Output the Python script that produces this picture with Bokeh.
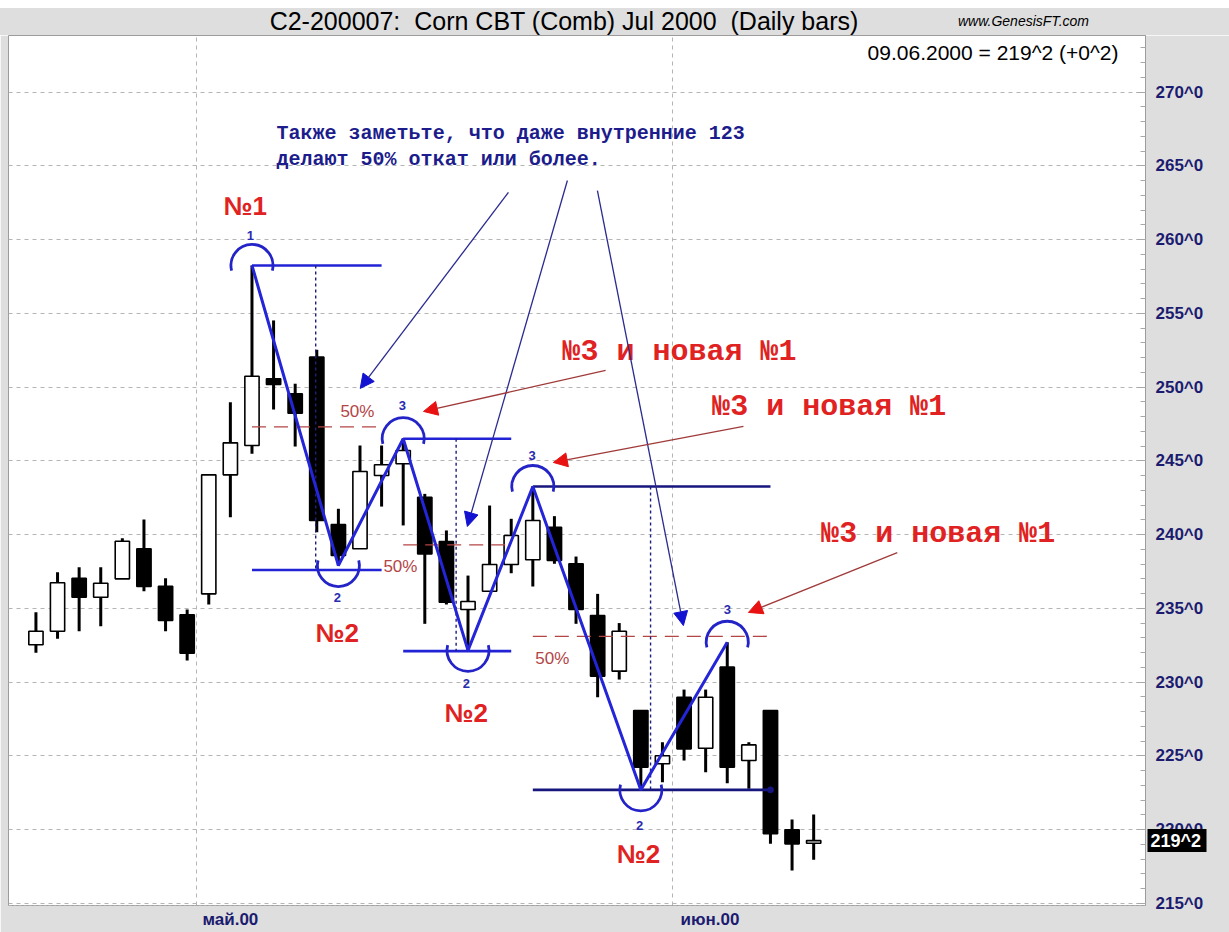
import numpy as np
from bokeh.plotting import figure
from bokeh.layouts import column
from bokeh.models import (ColumnDataSource, FixedTicker, CustomJSTickFormatter, Label,
                          Arrow, NormalHead, Range1d, Div, LinearAxis)
from bokeh.core.properties import value
from bokeh.embed import file_html
from bokeh.resources import INLINE

# ---------------- data ----------------
dates = ["18.04", "19.04", "20.04", "24.04", "25.04", "26.04", "27.04", "28.04",
         "01.05", "02.05", "03.05", "04.05", "05.05", "08.05", "09.05", "10.05", "11.05", "12.05",
         "15.05", "16.05", "17.05", "18.05", "19.05", "22.05", "23.05", "24.05", "25.05", "26.05",
         "30.05", "31.05",
         "01.06", "02.06", "05.06", "06.06", "07.06", "08.06", "09.06"]
opens = [232.53, 233.45, 237.04, 235.75, 237.00, 239.04, 236.50, 234.56,
         235.98, 244.05, 246.04, 250.56, 249.55, 252.03, 240.68, 239.04, 244.01, 244.80,
         242.53, 239.53, 234.92, 236.16, 237.97, 238.29, 240.50, 238.02, 234.51, 230.74,
         228.07, 224.46,
         228.97, 225.51, 231.01, 224.68, 228.07, 219.98, 219.07]
highs = [234.74, 237.45, 237.79, 237.79, 239.75, 241.02, 237.04, 234.92,
         244.05, 248.98, 258.25, 254.52, 250.23, 252.53, 241.75, 246.04, 246.04, 246.50,
         242.76, 240.28, 237.22, 241.97, 241.07, 243.26, 241.25, 238.51, 235.98, 234.00,
         228.07, 225.92,
         229.49, 229.49, 232.70, 225.92, 228.07, 220.68, 221.02]
lows = [231.98, 232.93, 233.45, 233.79, 237.00, 236.16, 233.45, 231.46,
        235.26, 241.18, 245.48, 248.48, 245.97, 240.16, 237.90, 239.04, 241.90, 240.62,
        233.95, 235.26, 232.15, 236.16, 237.38, 236.48, 238.02, 233.95, 228.97, 230.17,
        222.69, 223.21,
        224.68, 223.89, 223.14, 222.76, 219.03, 217.22, 217.95]
closes = [233.45, 236.73, 235.75, 236.70, 239.55, 236.48, 234.17, 231.96,
          244.05, 246.22, 250.74, 250.18, 248.23, 240.95, 238.58, 244.28, 244.73, 245.70,
          238.69, 235.41, 235.46, 237.97, 239.94, 240.95, 238.24, 234.92, 230.40, 233.45,
          224.22, 225.00,
          225.47, 228.97, 224.22, 225.74, 219.71, 219.03, 219.25]

price_ticks = [215, 220, 225, 230, 235, 240, 245, 250, 255, 260, 265, 270]
month_labels = ["май.00", "июн.00"]
month_grid = [8.45, 30.45]        # month boundaries (grid lines)
month_label_pos = [10.0, 32.2]    # label centres

# 1-2-3 pivots (bar number, price) and their labels
pivot_idx = [11, 15, 18, 21, 24, 29, 33]
pivot_px = [258.25, 237.90, 246.50, 232.15, 243.26, 222.69, 232.70]
pivot_side = ["top", "bottom", "top", "bottom", "top", "bottom", "top"]
pivot_num = ["1", "2", "3", "2", "3", "2", "3"]
pivot_num_x = [10.92, 14.95, 17.96, 20.92, 23.97, 28.94, 33.00]
pivot_num_y = [260.28, 235.73, 248.75, 229.90, 245.36, 220.27, 234.92]

# levels of each 1-2-3 swing
lvl_x0 = [11, 18, 24]
lvl_x1 = [17, 23, 35]
lvl_hi = [258.25, 246.50, 243.26]
lvl_lo = [237.60, 232.10, 222.69]
lvl_colors = ["#2323d6", "#2323d6", "#16167e"]
half_lvl = [247.30, 239.30, 233.10]
vert_x = [13.95, 20.45, 29.45]
half_txt_x = [15.88, 17.87, 24.90]
half_txt_y = [248.35, 237.84, 231.60]

# labels "№1" / "№2"
num_txt = ["№1", "№2", "№2", "№2"]
num_x = [10.69, 14.95, 20.92, 28.89]
num_y = [262.30, 233.36, 227.93, 218.37]

# red notes "№3 и новая №1"
note_txt = ["№3 и новая №1", "№3 и новая №1", "№3 и новая №1"]
note_x = [25.37, 32.30, 37.35]
note_y = [252.35, 248.62, 240.07]
red_arrow_x0 = [27.37, 33.75, 40.87]
red_arrow_y0 = [251.13, 247.33, 238.78]
red_arrow_x1 = [18.94, 24.95, 33.98]
red_arrow_y1 = [248.35, 244.89, 234.72]

# blue comment
blue_lines = ["Также заметьте, что даже внутренние 123", "делают 50% откат или более."]
blue_x = [12.14, 12.14]
blue_y = [267.20, 265.44]
blue_arrow_x0 = [22.87, 25.60, 26.99]
blue_arrow_y0 = [263.20, 264.01, 263.33]
blue_arrow_x1 = [16.01, 20.97, 30.97]
blue_arrow_y1 = [249.91, 240.55, 233.83]

title_text = "C2-200007:&nbsp; Corn CBT (Comb) Jul 2000&nbsp; (Daily bars)"
site_text = "www.GenesisFT.com"
last_text = "09.06.2000 = 219^2 (+0^2)"
last_price = 219.25
last_tag = "219^2"

FONT = "Liberation Sans"

# ---------------- header band ----------------
header = Div(width=1229, height=35, styles={"background-color": "#dedede", "margin": "0"},
             text=f"""
<div style="position:relative;width:1229px;height:35px;font-family:'{FONT}';">
 <div style="position:absolute;left:0;top:0;width:1229px;height:8px;background:white;"></div>
 <div style="position:absolute;left:0;width:1128px;top:7px;text-align:center;font-size:25px;
             line-height:28px;color:black;white-space:nowrap;">{title_text}</div>
 <div style="position:absolute;left:958px;top:13px;font-size:14px;font-style:italic;
             line-height:16px;color:black;">{site_text}</div>
</div>""")

# ---------------- figure ----------------
idx = np.arange(1, len(dates) + 1)
p = figure(width=1229, height=897, output_backend="svg", toolbar_location=None,
           x_range=Range1d(-0.27, 52.36), y_range=Range1d(214.85, 273.84),
           y_axis_location="right", min_border_left=8, min_border_right=84,
           min_border_top=0, min_border_bottom=27)
p.border_fill_color = "#dedede"
p.background_fill_color = "white"
p.outline_line_color = "#9c9c9c"

ax_y = p.yaxis[0]
ax_y.ticker = FixedTicker(ticks=price_ticks, minor_ticks=list(range(215, 274)))
ax_y.formatter = CustomJSTickFormatter(code="return tick.toFixed(0) + '^0';")
ax_y.major_label_text_font = FONT
ax_y.major_label_text_font_style = "bold"
ax_y.major_label_text_font_size = "17px"
ax_y.major_label_text_color = "#1b1b70"
ax_y.major_label_standoff = 10
ax_y.axis_line_color = "#9c9c9c"
ax_y.major_tick_in = 9
ax_y.major_tick_out = 0
ax_y.minor_tick_in = 5
ax_y.minor_tick_out = 0
ax_y.major_tick_line_color = "#a8a8a8"
ax_y.minor_tick_line_color = "#a8a8a8"

# last-price tag: a second right axis whose single wide inward tick forms the black box
tag_axis = LinearAxis(ticker=FixedTicker(ticks=[last_price], minor_ticks=[]),
                      formatter=CustomJSTickFormatter(args=dict(tag=last_tag), code="return tag;"),
                      axis_line_color=None,
                      major_tick_line_color="black", major_tick_line_width=23,
                      major_tick_in=59, major_tick_out=0,
                      minor_tick_line_color=None, minor_tick_in=0, minor_tick_out=0,
                      major_label_standoff=-56, major_label_text_font=FONT,
                      major_label_text_font_style="bold", major_label_text_font_size="18px",
                      major_label_text_color="white")
p.add_layout(tag_axis, "right")

ax_x = p.xaxis[0]
ax_x.ticker = FixedTicker(ticks=month_label_pos)
ax_x.formatter = CustomJSTickFormatter(args=dict(names=month_labels, pos=month_label_pos),
                                       code="""
let best = 0;
for (let i = 0; i < pos.length; i++) { if (Math.abs(pos[i] - tick) < Math.abs(pos[best] - tick)) best = i; }
return names[best];""")
ax_x.major_label_text_font = FONT
ax_x.major_label_text_font_style = "bold"
ax_x.major_label_text_font_size = "17px"
ax_x.major_label_text_color = "#1b1b70"
ax_x.major_label_standoff = 4
ax_x.axis_line_color = "#b0b0b0"
ax_x.axis_line_dash = "3 2"
ax_x.major_tick_in = 0
ax_x.major_tick_out = 0
ax_x.minor_tick_line_color = None

p.xgrid[0].ticker = FixedTicker(ticks=month_grid)
for g in (p.xgrid[0], p.ygrid[0]):
    g.grid_line_color = "#b5b5b5"
    g.grid_line_dash = "4 4"
    g.grid_line_width = 1

# ---------------- candles ----------------
o = np.array(opens); c = np.array(closes)
src = ColumnDataSource(dict(
    x=idx, high=highs, low=lows,
    top=np.maximum(o, c), bottom=np.minimum(o, c),
    fill=["white" if cc >= oo else "black" for oo, cc in zip(opens, closes)],
))
p.segment(x0="x", y0="low", x1="x", y1="high", source=src, line_color="black", line_width=3)
p.vbar(x="x", width=0.66, top="top", bottom="bottom", source=src,
       fill_color="fill", line_color="black", line_width=1.6)

# ---------------- 1-2-3 construction ----------------
for x0, x1, hi, lo, col, half, vx in zip(lvl_x0, lvl_x1, lvl_hi, lvl_lo, lvl_colors, half_lvl, vert_x):
    p.segment(x0=[x0, x0], y0=[hi, lo], x1=[x1, x1], y1=[hi, lo], line_color=col, line_width=2.6)
    p.segment(x0=[x0], y0=[half], x1=[x1], y1=[half], line_color="#b34545", line_width=1.4,
              line_dash="14 8")
    p.segment(x0=[vx], y0=[hi], x1=[vx], y1=[lo], line_color="#1e1e80", line_width=1.4,
              line_dash="3 3")
p.scatter([lvl_x1[2]], [lvl_lo[2]], size=6, color="#16167e")

p.line(pivot_idx, pivot_px, line_color="#2424d8", line_width=3)

for xi, yi, side in zip(pivot_idx, pivot_px, pivot_side):
    if side == "top":
        sa, ea = -0.25, np.pi + 0.25
    else:
        sa, ea = np.pi - 0.25, 2 * np.pi + 0.25
    p.arc(x=[xi], y=[yi], radius=21, radius_units="screen", start_angle=sa, end_angle=ea,
          line_color="#2323c8", line_width=2.8)

p.text(x=pivot_num_x, y=pivot_num_y, text=pivot_num, text_align="center", text_baseline="middle",
       text_font=value(FONT), text_font_style="bold", text_font_size="13px",
       text_color="#2a2ab0")

p.text(x=half_txt_x, y=half_txt_y, text=["50%"] * 3, text_align="center", text_baseline="middle",
       text_font=value(FONT), text_font_size="17px", text_color="#b34545")

p.text(x=num_x, y=num_y, text=num_txt, text_align="center", text_baseline="middle",
       text_font=value(FONT), text_font_style="bold", text_font_size="26px",
       text_color="#e02222")

p.text(x=note_x, y=note_y, text=note_txt, text_align="left", text_baseline="middle",
       text_font=value("Liberation Mono"), text_font_style="bold", text_font_size="30px",
       text_color="#e02222")

p.text(x=blue_x, y=blue_y, text=blue_lines, text_align="left", text_baseline="middle",
       text_font=value("Liberation Mono"), text_font_style="bold", text_font_size="20px",
       text_color="#1c1c8c")

for xs, ys, xe, ye in zip(blue_arrow_x0, blue_arrow_y0, blue_arrow_x1, blue_arrow_y1):
    p.add_layout(Arrow(end=NormalHead(size=14, fill_color="#1212d0", line_color="#1212d0"),
                       x_start=xs, y_start=ys, x_end=xe, y_end=ye,
                       line_color="#2a2a90", line_width=1.3))
for xs, ys, xe, ye in zip(red_arrow_x0, red_arrow_y0, red_arrow_x1, red_arrow_y1):
    p.add_layout(Arrow(end=NormalHead(size=14, fill_color="#e81212", line_color="#e81212"),
                       x_start=xs, y_start=ys, x_end=xe, y_end=ye,
                       line_color="#a03a3a", line_width=1.3))

p.add_layout(Label(x=51.11, y=272.69, text=last_text, text_align="right", text_baseline="middle",
                   text_font=FONT, text_font_size="21px", text_color="black"))

layout = column(header, p, spacing=0)
open("out.html", "w").write(file_html(layout, INLINE))
